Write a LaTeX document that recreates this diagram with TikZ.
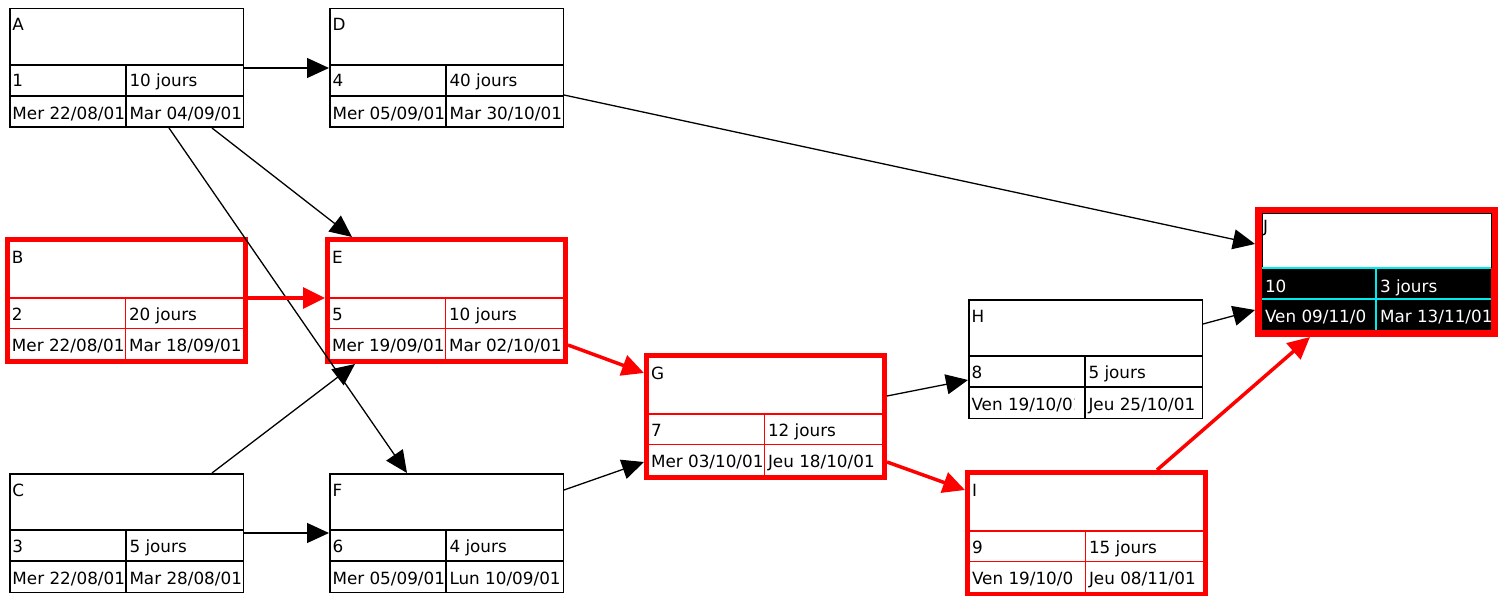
\documentclass[tikz,border=0pt]{standalone}
\usepackage{fontspec}
\setmainfont{DejaVu Sans}
\usetikzlibrary{arrows.meta}
\definecolor{cyanline}{RGB}{0,235,235}
\definecolor{critred}{RGB}{255,0,0}
\tikzset{
  plainbox/.style={draw=black, line width=1.5pt, fill=white, minimum width=233.5pt, minimum height=118.5pt, inner sep=0pt, anchor=north west},
  critbox/.style={draw=critred, line width=5pt, fill=white, minimum width=238pt, minimum height=122pt, inner sep=0pt, anchor=north west},
  finalbox/.style={draw=critred, line width=7pt, fill=white, minimum width=236pt, minimum height=123pt, inner sep=0pt, anchor=north west},
  plaingrid/.style={draw=black, line width=1.5pt},
  critgrid/.style={draw=critred, line width=1.6pt},
  cyangrid/.style={draw=cyanline, line width=1.5pt},
  celltext/.style={anchor=base west, inner sep=0pt, outer sep=0pt, font=\fontsize{16.8}{19}\selectfont},
  conn/.style={draw=black, line width=1.3pt, -{Triangle[length=22pt,width=20pt]}},
  critconn/.style={draw=critred, line width=3.5pt, -{Triangle[length=22pt,width=21pt]}}
}
\newcommand\plaintask[8]{%
  \node[plainbox] (#1) at (#2,#3) {};
  \draw[plaingrid] ([shift={(0,57)}]#1.north west) -- ([shift={(0,57)}]#1.north east);
  \draw[plaingrid] ([shift={(0,88)}]#1.north west) -- ([shift={(0,88)}]#1.north east);
  \draw[plaingrid] ([shift={(117,57)}]#1.north west) -- ([shift={(117,0)}]#1.south west);
  \node[celltext] (#1-title) at ([shift={(3.5,23)}]#1.north west) {#4};
  \node[celltext] (#1-num) at ([shift={(3.5,79)}]#1.north west) {#5};
  \node[celltext] (#1-dur) at ([shift={(120.5,79)}]#1.north west) {#6};
  \node[celltext] (#1-start) at ([shift={(3.5,111.5)}]#1.north west) {#7};
  \node[celltext] (#1-end) at ([shift={(120.5,111.5)}]#1.north west) {#8};
}
\newcommand\crittask[8]{%
  \node[critbox] (#1) at (#2,#3) {};
  \draw[critgrid] ([shift={(0,61)}]#1.north west) -- ([shift={(0,61)}]#1.north east);
  \draw[critgrid] ([shift={(0,91.5)}]#1.north west) -- ([shift={(0,91.5)}]#1.north east);
  \draw[critgrid] ([shift={(120.5,61)}]#1.north west) -- ([shift={(120.5,0)}]#1.south west);
  \node[celltext] (#1-title) at ([shift={(7,26)}]#1.north west) {#4};
  \node[celltext] (#1-num) at ([shift={(7,83.5)}]#1.north west) {#5};
  \node[celltext] (#1-dur) at ([shift={(124,83.5)}]#1.north west) {#6};
  \node[celltext] (#1-start) at ([shift={(7,114)}]#1.north west) {#7};
  \node[celltext] (#1-end) at ([shift={(124,114)}]#1.north west) {#8};
}
\begin{document}
\begin{tikzpicture}[x=1pt,y=-1pt]
\useasboundingbox[fill=white] (0,0) rectangle (1505,596);

\plaintask{A}{9}{8}{A}{1}{10 jours}{Mer 22/08/01}{Mar 04/09/01}
\plaintask{D}{329}{8}{D}{4}{40 jours}{Mer 05/09/01}{Mar 30/10/01}
\crittask{B}{5}{237}{B}{2}{20 jours}{Mer 22/08/01}{Mar 18/09/01}
\crittask{E}{325}{237}{E}{5}{10 jours}{Mer 19/09/01}{Mar 02/10/01}
\plaintask{C}{9}{473}{C}{3}{5 jours}{Mer 22/08/01}{Mar 28/08/01}
\plaintask{F}{329}{473}{F}{6}{4 jours}{Mer 05/09/01}{Lun 10/09/01}
\crittask{G}{644}{353}{G}{7}{12 jours}{Mer 03/10/01}{Jeu 18/10/01}
\plaintask{H}{968}{299}{H}{8}{5 jours}{}{Jeu 25/10/01}
\crittask{I}{965}{470}{I}{9}{15 jours}{}{Jeu 08/11/01}

% start dates cut off by the cell edge
\begin{scope}
  \clip ([shift={(0,88)}]H.north west) rectangle ([shift={(106,0)}]H.south west);
  \node[celltext] (H-startc) at ([shift={(3.5,111.5)}]H.north west) {Ven 19/10/01};
\end{scope}
\begin{scope}
  \clip ([shift={(0,91.5)}]I.north west) rectangle ([shift={(109.5,0)}]I.south west);
  \node[celltext] (I-startc) at ([shift={(7,114)}]I.north west) {Ven 19/10/01};
\end{scope}

% final task J
\node[finalbox] (J) at (1255,207) {};
\fill[black] ([shift={(7,61)}]J.north west) rectangle ([shift={(-7,-7)}]J.south east);
\draw[plaingrid, line width=1pt] ([shift={(7,7)}]J.north west) rectangle ([shift={(-7,61)}]J.north east);
\draw[cyangrid] ([shift={(7,61)}]J.north west) -- ([shift={(-7,61)}]J.north east);
\draw[cyangrid] ([shift={(7,92)}]J.north west) -- ([shift={(-7,92)}]J.north east);
\draw[cyangrid] ([shift={(121,61)}]J.north west) -- ([shift={(121,-7)}]J.south west);
\node[celltext] (J-title) at ([shift={(8,26)}]J.north west) {J};
\node[celltext, text=white] (J-num) at ([shift={(10,85)}]J.north west) {10};
\node[celltext, text=white] (J-dur) at ([shift={(125,85)}]J.north west) {3 jours};
\begin{scope}
  \clip ([shift={(7,92)}]J.north west) rectangle ([shift={(112.5,-7)}]J.south west);
  \node[celltext, text=white] (J-start) at ([shift={(10,115)}]J.north west) {Ven 09/11/01};
\end{scope}
\node[celltext, text=white] (J-end) at ([shift={(125,115)}]J.north west) {Mar 13/11/01};

% connectors
\draw[conn] ([shift={(0,60)}]A.north east) -- ([shift={(0,60)}]D.north west);
\draw[conn] ([shift={(203,0)}]A.south west) -- ([shift={(27,0)}]E.north west);
\draw[conn] ([shift={(160,0)}]A.south west) -- ([shift={(78,0)}]F.north west);
\draw[critconn] ([shift={(0,61)}]B.north east) -- ([shift={(0,61)}]E.north west);
\draw[conn] ([shift={(203,0)}]C.north west) -- ([shift={(30,0)}]E.south west);
\draw[conn] ([shift={(0,60)}]C.north east) -- ([shift={(0,60)}]F.north west);
\draw[conn] ([shift={(0,87)}]D.north east) -- ([shift={(0,37)}]J.north west);
\draw[critconn] ([shift={(0,108)}]E.north east) -- ([shift={(0,20)}]G.north west);
\draw[conn] ([shift={(0,17)}]F.north east) -- ([shift={(0,109)}]G.north west);
\draw[conn] ([shift={(0,43)}]G.north east) -- ([shift={(0,81)}]H.north west);
\draw[critconn] ([shift={(0,109)}]G.north east) -- ([shift={(0,20)}]I.north west);
\draw[conn] ([shift={(0,25)}]H.north east) -- ([shift={(0,103)}]J.north west);
\draw[critconn] ([shift={(192,0)}]I.north west) -- ([shift={(55,0)}]J.south west);
\end{tikzpicture}
\end{document}
